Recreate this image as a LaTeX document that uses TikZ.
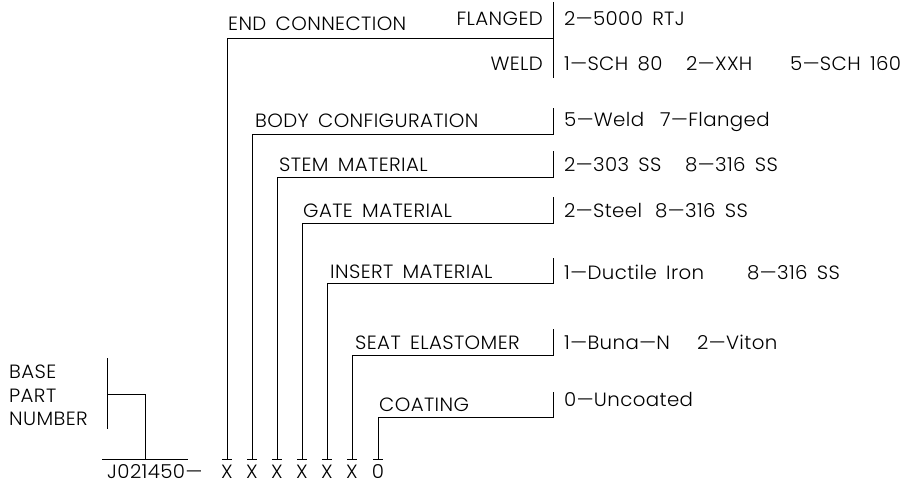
\documentclass[tikz,border=0pt]{standalone}
\usepackage{fontspec}
\setmainfont{Poppins}[UprightFont=* Light, FakeStretch=1.03, WordSpace=1.6, LetterSpace=2]
\begin{document}
\begin{tikzpicture}[x=1pt,y=-1pt,
  txt/.style={font=\fontsize{19.2}{22}\selectfont, inner sep=0pt, anchor=base west},
  txtr/.style={txt, anchor=base east},
  txtc/.style={txt, anchor=base},
  ln/.style={line width=0.8pt, line cap=butt}]
\useasboundingbox (0,0) rectangle (909,484);

% ---------- bottom code ----------
\node[txt] (base) at (107,478) {J021450---};
\foreach \i/\x/\c in {1/227/X,2/252/X,3/277/X,4/302/X,5/327/X,6/352/X,7/378/0}{
  \node[txtc] (d\i) at (\x,478) {\c};
  \coordinate (t\i) at (\x,459);
  \draw[ln] ([xshift=-5pt]t\i) -- ([xshift=5pt]t\i);
}

% ---------- base part number ----------
\node[txt] (bp1) at (9,378) {BASE};
\node[txt] (bp2) at (9,402) {PART};
\node[txt] (bp3) at (9,425) {NUMBER};
\coordinate (bl) at (102,459);
\coordinate (br) at (188,459);
\coordinate (bm) at (145,459);
\coordinate (bk) at (145,394);
\coordinate (bv) at (107,394);
\coordinate (bvt) at (107,358);
\coordinate (bvb) at (107,429);
\draw[ln] (bl) -- (br);
\draw[ln] (bm) -- (bk) -- (bv);
\draw[ln] (bvt) -- (bvb);

% ---------- end connection ----------
\node[txt] (ec) at (228,31) {END CONNECTION};
\node[txtr] (fl) at (543,26) {FLANGED};
\node[txtr] (wd) at (543,71) {WELD};
\node[txt] (ec1) at (564,26) {2---5000 RTJ};
\node[txt] (ec2) at (564,71) {1---SCH 80};
\node[txt] (ec3) at (686,71) {2---XXH};
\node[txt] (ec4) at (790,71) {5---SCH 160};
\coordinate (c1) at (227,38);
\coordinate (r1) at (553,38);
\coordinate (r1t) at (553,2);
\coordinate (r1b) at (553,78);
\draw[ln] (t1) -- (c1) -- (r1);
\draw[ln] (r1t) -- (r1b);

% ---------- body configuration ----------
\node[txt] (bc) at (255,127) {BODY CONFIGURATION};
\node[txt] (bc1) at (564,126) {5---Weld};
\node[txt] (bc2) at (660,126) {7---Flanged};
\coordinate (c2) at (252,134);
\coordinate (r2) at (553,134);
\coordinate (r2t) at (553,108);
\draw[ln] (t2) -- (c2) -- (r2) -- (r2t);

% ---------- stem material ----------
\node[txt] (sm) at (279,171) {STEM MATERIAL};
\node[txt] (sm1) at (564,171) {2---303 SS};
\node[txt] (sm2) at (685,171) {8---316 SS};
\coordinate (c3) at (277,177);
\coordinate (r3) at (553,177);
\coordinate (r3t) at (553,151);
\draw[ln] (t3) -- (c3) -- (r3) -- (r3t);

% ---------- gate material ----------
\node[txt] (gm) at (303,217) {GATE MATERIAL};
\node[txt] (gm1) at (564,217) {2---Steel};
\node[txt] (gm2) at (655,217) {8---316 SS};
\coordinate (c4) at (302,223);
\coordinate (r4) at (553,223);
\coordinate (r4t) at (553,197);
\draw[ln] (t4) -- (c4) -- (r4) -- (r4t);

% ---------- insert material ----------
\node[txt] (im) at (330,278) {INSERT MATERIAL};
\node[txt] (im1) at (564,279) {1---Ductile Iron};
\node[txt] (im2) at (747,279) {8---316 SS};
\coordinate (c5) at (327,283);
\coordinate (r5) at (553,283);
\coordinate (r5t) at (553,258);
\draw[ln] (t5) -- (c5) -- (r5) -- (r5t);

% ---------- seat elastomer ----------
\node[txt] (se) at (355,349) {SEAT ELASTOMER};
\node[txt] (se1) at (564,349) {1---Buna---N};
\node[txt] (se2) at (697,349) {2---Viton};
\coordinate (c6) at (352,355);
\coordinate (r6) at (553,355);
\coordinate (r6t) at (553,329);
\draw[ln] (t6) -- (c6) -- (r6) -- (r6t);

% ---------- coating ----------
\node[txt] (co) at (379,411) {COATING};
\node[txt] (co1) at (564,406) {0---Uncoated};
\coordinate (c7) at (378,417);
\coordinate (r7) at (553,417);
\coordinate (r7t) at (553,392);
\draw[ln] (t7) -- (c7) -- (r7) -- (r7t);
\end{tikzpicture}
\end{document}
